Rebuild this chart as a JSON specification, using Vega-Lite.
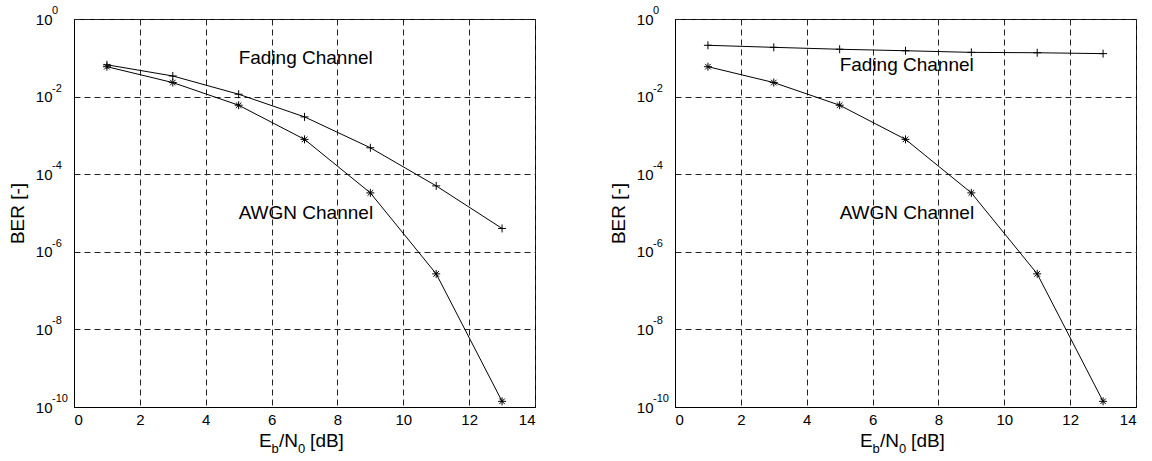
{
  "$schema": "https://vega.github.io/schema/vega-lite/v6.json",
  "padding": {"left": 7, "top": 4, "right": 5, "bottom": 5},
  "background": "white",
  "config": {
    "font": "Liberation Sans",
    "view": {"stroke": "black", "strokeWidth": 1},
    "text": {"font": "Liberation Sans", "color": "black"},
    "axis": {
      "grid": true,
      "gridColor": "#222222",
      "gridDash": [6, 4],
      "gridWidth": 1,
      "gridOpacity": 1,
      "domainColor": "black",
      "ticks": false,
      "tickSize": 0,
      "labelColor": "black",
      "labelFont": "Liberation Sans",
      "labelFontSize": 15,
      "titleFont": "Liberation Sans",
      "titleFontSize": 19,
      "titleFontWeight": "normal",
      "titleColor": "black"
    }
  },
  "datasets": {
    "ber": [
      {"panel": "a", "channel": "Fading", "ebn0": 1, "ber": 0.066},
      {"panel": "a", "channel": "Fading", "ebn0": 3, "ber": 0.034},
      {"panel": "a", "channel": "Fading", "ebn0": 5, "ber": 0.0115},
      {"panel": "a", "channel": "Fading", "ebn0": 7, "ber": 0.003},
      {"panel": "a", "channel": "Fading", "ebn0": 9, "ber": 0.00048},
      {"panel": "a", "channel": "Fading", "ebn0": 11, "ber": 0.00005},
      {"panel": "a", "channel": "Fading", "ebn0": 13, "ber": 0.000004},
      {"panel": "a", "channel": "AWGN", "ebn0": 1, "ber": 0.059},
      {"panel": "a", "channel": "AWGN", "ebn0": 3, "ber": 0.023},
      {"panel": "a", "channel": "AWGN", "ebn0": 5, "ber": 0.006},
      {"panel": "a", "channel": "AWGN", "ebn0": 7, "ber": 0.00079},
      {"panel": "a", "channel": "AWGN", "ebn0": 9, "ber": 0.000033},
      {"panel": "a", "channel": "AWGN", "ebn0": 11, "ber": 2.7e-7},
      {"panel": "a", "channel": "AWGN", "ebn0": 13, "ber": 1.4e-10},
      {"panel": "b", "channel": "Fading", "ebn0": 1, "ber": 0.21},
      {"panel": "b", "channel": "Fading", "ebn0": 3, "ber": 0.186},
      {"panel": "b", "channel": "Fading", "ebn0": 5, "ber": 0.166},
      {"panel": "b", "channel": "Fading", "ebn0": 7, "ber": 0.152},
      {"panel": "b", "channel": "Fading", "ebn0": 9, "ber": 0.138},
      {"panel": "b", "channel": "Fading", "ebn0": 11, "ber": 0.135},
      {"panel": "b", "channel": "Fading", "ebn0": 13, "ber": 0.128},
      {"panel": "b", "channel": "AWGN", "ebn0": 1, "ber": 0.059},
      {"panel": "b", "channel": "AWGN", "ebn0": 3, "ber": 0.023},
      {"panel": "b", "channel": "AWGN", "ebn0": 5, "ber": 0.006},
      {"panel": "b", "channel": "AWGN", "ebn0": 7, "ber": 0.00079},
      {"panel": "b", "channel": "AWGN", "ebn0": 9, "ber": 0.000033},
      {"panel": "b", "channel": "AWGN", "ebn0": 11, "ber": 2.7e-7},
      {"panel": "b", "channel": "AWGN", "ebn0": 13, "ber": 1.4e-10}
    ],
    "expo": [
      {"value": 1, "exp": "0"},
      {"value": 0.01, "exp": "-2"},
      {"value": 0.0001, "exp": "-4"},
      {"value": 0.000001, "exp": "-6"},
      {"value": 1e-8, "exp": "-8"},
      {"value": 1e-10, "exp": "-10"}
    ],
    "notesA": [
      {"label": "Fading Channel", "ebn0": 5, "ber": 0.1},
      {"label": "AWGN Channel", "ebn0": 5, "ber": 0.00001}
    ],
    "notesB": [
      {"label": "Fading Channel", "ebn0": 5, "ber": 0.065},
      {"label": "AWGN Channel", "ebn0": 5, "ber": 0.00001}
    ],
    "one": [{"k": 1}]
  },
  "bounds": "flush",
  "spacing": 140,
  "hconcat": [
    {
      "width": 461,
      "height": 388,
      "layer": [
        {"data": {"name": "ber"}, "transform": [{"filter": "datum.panel == 'a'"}],
          "mark": {"type": "line", "color": "black", "strokeWidth": 1},
          "encoding": {
            "x": {"field": "ebn0", "type": "quantitative", "scale": {"domain": [0, 14], "nice": false},
              "axis": {"values": [0, 2, 4, 6, 8, 10, 12, 14], "title": null, "labelPadding": 5}},
            "y": {"field": "ber", "type": "quantitative", "scale": {"type": "log", "domain": [1e-10, 1], "nice": false},
              "axis": {"values": [1, 0.01, 0.0001, 0.000001, 1e-8, 1e-10], "title": "BER [-]", "titlePadding": 8,
                "labelAlign": "right", "labelPadding": 22, "labelExpr": "'10'"}},
            "detail": {"field": "channel"}}},
        {"data": {"name": "ber"}, "transform": [{"filter": "datum.panel == 'a'"}],
          "mark": {"type": "point", "filled": false, "stroke": "black", "strokeWidth": 1, "size": 64, "opacity": 1},
          "encoding": {
            "x": {"field": "ebn0", "type": "quantitative"},
            "y": {"field": "ber", "type": "quantitative"},
            "shape": {"field": "channel", "type": "nominal", "legend": null,
              "scale": {"domain": ["Fading", "AWGN"], "range": ["M-1,0L1,0M0,-1L0,1", "M-1,0L1,0M0,-1L0,1M-0.7,-0.7L0.7,0.7M-0.7,0.7L0.7,-0.7"]}}}},
        {"data": {"name": "expo"},
          "mark": {"type": "text", "align": "left", "baseline": "middle", "fontSize": 11, "dx": -22, "dy": -8},
          "encoding": {"x": {"datum": 0, "type": "quantitative"}, "y": {"field": "value", "type": "quantitative"}, "text": {"field": "exp", "type": "nominal"}}},
        {"data": {"name": "notesA"},
          "mark": {"type": "text", "align": "left", "baseline": "middle", "fontSize": 19},
          "encoding": {"x": {"field": "ebn0", "type": "quantitative"}, "y": {"field": "ber", "type": "quantitative"}, "text": {"field": "label", "type": "nominal"}}},
        {"data": {"name": "one"}, "mark": {"type": "text", "text": "E", "align": "left", "baseline": "alphabetic", "fontSize": 19},
          "encoding": {"x": {"datum": 5.62, "type": "quantitative"}, "y": {"datum": 9.3e-12, "type": "quantitative"}}},
        {"data": {"name": "one"}, "mark": {"type": "text", "text": "b", "align": "left", "baseline": "alphabetic", "fontSize": 13},
          "encoding": {"x": {"datum": 6.0, "type": "quantitative"}, "y": {"datum": 6.5e-12, "type": "quantitative"}}},
        {"data": {"name": "one"}, "mark": {"type": "text", "text": "/N", "align": "left", "baseline": "alphabetic", "fontSize": 19},
          "encoding": {"x": {"datum": 6.225, "type": "quantitative"}, "y": {"datum": 9.3e-12, "type": "quantitative"}}},
        {"data": {"name": "one"}, "mark": {"type": "text", "text": "0", "align": "left", "baseline": "alphabetic", "fontSize": 13},
          "encoding": {"x": {"datum": 6.8, "type": "quantitative"}, "y": {"datum": 6.5e-12, "type": "quantitative"}}},
        {"data": {"name": "one"}, "mark": {"type": "text", "text": "[dB]", "align": "left", "baseline": "alphabetic", "fontSize": 19},
          "encoding": {"x": {"datum": 7.17, "type": "quantitative"}, "y": {"datum": 9.3e-12, "type": "quantitative"}}}
      ]
    },
    {
      "width": 461,
      "height": 388,
      "layer": [
        {"data": {"name": "ber"}, "transform": [{"filter": "datum.panel == 'b'"}],
          "mark": {"type": "line", "color": "black", "strokeWidth": 1},
          "encoding": {
            "x": {"field": "ebn0", "type": "quantitative", "scale": {"domain": [0, 14], "nice": false},
              "axis": {"values": [0, 2, 4, 6, 8, 10, 12, 14], "title": null, "labelPadding": 5}},
            "y": {"field": "ber", "type": "quantitative", "scale": {"type": "log", "domain": [1e-10, 1], "nice": false},
              "axis": {"values": [1, 0.01, 0.0001, 0.000001, 1e-8, 1e-10], "title": "BER [-]", "titlePadding": 8,
                "labelAlign": "right", "labelPadding": 22, "labelExpr": "'10'"}},
            "detail": {"field": "channel"}}},
        {"data": {"name": "ber"}, "transform": [{"filter": "datum.panel == 'b'"}],
          "mark": {"type": "point", "filled": false, "stroke": "black", "strokeWidth": 1, "size": 64, "opacity": 1},
          "encoding": {
            "x": {"field": "ebn0", "type": "quantitative"},
            "y": {"field": "ber", "type": "quantitative"},
            "shape": {"field": "channel", "type": "nominal", "legend": null,
              "scale": {"domain": ["Fading", "AWGN"], "range": ["M-1,0L1,0M0,-1L0,1", "M-1,0L1,0M0,-1L0,1M-0.7,-0.7L0.7,0.7M-0.7,0.7L0.7,-0.7"]}}}},
        {"data": {"name": "expo"},
          "mark": {"type": "text", "align": "left", "baseline": "middle", "fontSize": 11, "dx": -22, "dy": -8},
          "encoding": {"x": {"datum": 0, "type": "quantitative"}, "y": {"field": "value", "type": "quantitative"}, "text": {"field": "exp", "type": "nominal"}}},
        {"data": {"name": "notesB"},
          "mark": {"type": "text", "align": "left", "baseline": "middle", "fontSize": 19},
          "encoding": {"x": {"field": "ebn0", "type": "quantitative"}, "y": {"field": "ber", "type": "quantitative"}, "text": {"field": "label", "type": "nominal"}}},
        {"data": {"name": "one"}, "mark": {"type": "text", "text": "E", "align": "left", "baseline": "alphabetic", "fontSize": 19},
          "encoding": {"x": {"datum": 5.62, "type": "quantitative"}, "y": {"datum": 9.3e-12, "type": "quantitative"}}},
        {"data": {"name": "one"}, "mark": {"type": "text", "text": "b", "align": "left", "baseline": "alphabetic", "fontSize": 13},
          "encoding": {"x": {"datum": 6.0, "type": "quantitative"}, "y": {"datum": 6.5e-12, "type": "quantitative"}}},
        {"data": {"name": "one"}, "mark": {"type": "text", "text": "/N", "align": "left", "baseline": "alphabetic", "fontSize": 19},
          "encoding": {"x": {"datum": 6.225, "type": "quantitative"}, "y": {"datum": 9.3e-12, "type": "quantitative"}}},
        {"data": {"name": "one"}, "mark": {"type": "text", "text": "0", "align": "left", "baseline": "alphabetic", "fontSize": 13},
          "encoding": {"x": {"datum": 6.8, "type": "quantitative"}, "y": {"datum": 6.5e-12, "type": "quantitative"}}},
        {"data": {"name": "one"}, "mark": {"type": "text", "text": "[dB]", "align": "left", "baseline": "alphabetic", "fontSize": 19},
          "encoding": {"x": {"datum": 7.17, "type": "quantitative"}, "y": {"datum": 9.3e-12, "type": "quantitative"}}}
      ]
    }
  ]
}
